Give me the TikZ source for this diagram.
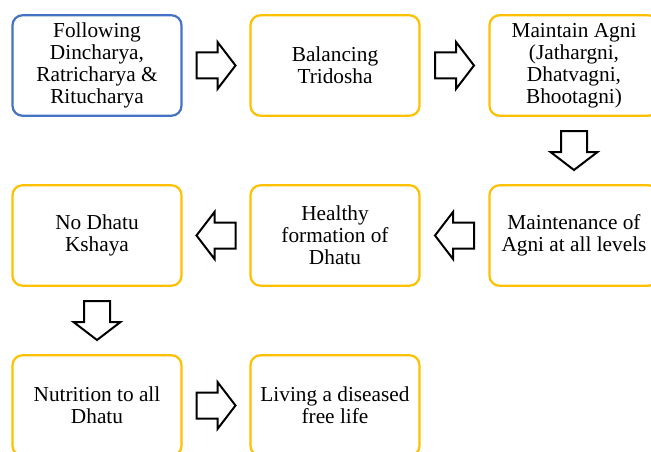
\documentclass[tikz,border=0pt]{standalone}
\usepackage{fontspec}
\setmainfont{Liberation Serif}
\usetikzlibrary{positioning}

\definecolor{stepblue}{HTML}{4472C4}
\definecolor{stepgold}{HTML}{FFC000}

\tikzset{
  stepbox/.style={draw=stepgold, line width=2.2pt, rounded corners=10pt,
    minimum width=169pt, minimum height=100.5pt, align=center, inner sep=2pt,
    font=\fontsize{21.3}{22}\selectfont},
  firstbox/.style={stepbox, draw=stepblue},
  blockarrow/.pic={
    \draw[line width=2pt, line join=miter]
      (-19.5,-13) -- (1.5,-13) -- (1.5,-23.5) -- (19.5,0)
      -- (1.5,23.5) -- (1.5,13) -- (-19.5,13) -- cycle;
  }
}

\begin{document}
\begin{tikzpicture}[x=1pt,y=-1pt]
\useasboundingbox (0,0) rectangle (651,452);
\clip (0,0) rectangle (651,452);

% row 1
\node[firstbox] (dincharya) at (97,65.5) {Following\\Dincharya,\\Ratricharya \&\\Ritucharya};
\node[stepbox] (tridosha) at (335,65.5) {Balancing\\Tridosha};
\node[stepbox] (agni) at (574,65.5) {Maintain Agni\\(Jathargni,\\Dhatvagni,\\Bhootagni)};

% row 2
\node[stepbox] (maintenance) at (574,235.5) {Maintenance of\\Agni at all levels};
\node[stepbox] (formation) at (335,235.5) {Healthy\\formation of\\Dhatu};
\node[stepbox] (nokshaya) at (97,235.5) {No Dhatu\\Kshaya};

% row 3
\node[stepbox] (nutrition) at (97,405.5) {Nutrition to all\\Dhatu};
\node[stepbox] (living) at (335,405.5) {Living a diseased\\free life};

% block arrows between the steps
\path (dincharya) -- coordinate[midway] (a1) (tridosha);
\path (tridosha) -- coordinate[midway] (a2) (agni);
\path (agni) -- coordinate[midway] (a3) (maintenance);
\path (maintenance) -- coordinate[midway] (a4) (formation);
\path (formation) -- coordinate[midway] (a5) (nokshaya);
\path (nokshaya) -- coordinate[midway] (a6) (nutrition);
\path (nutrition) -- coordinate[midway] (a7) (living);

\pic at (a1) {blockarrow};
\pic at (a2) {blockarrow};
\pic[rotate=-90] at (a3) {blockarrow};
\pic[rotate=180] at (a4) {blockarrow};
\pic[rotate=180] at (a5) {blockarrow};
\pic[rotate=-90] at (a6) {blockarrow};
\pic at (a7) {blockarrow};
\end{tikzpicture}
\end{document}
